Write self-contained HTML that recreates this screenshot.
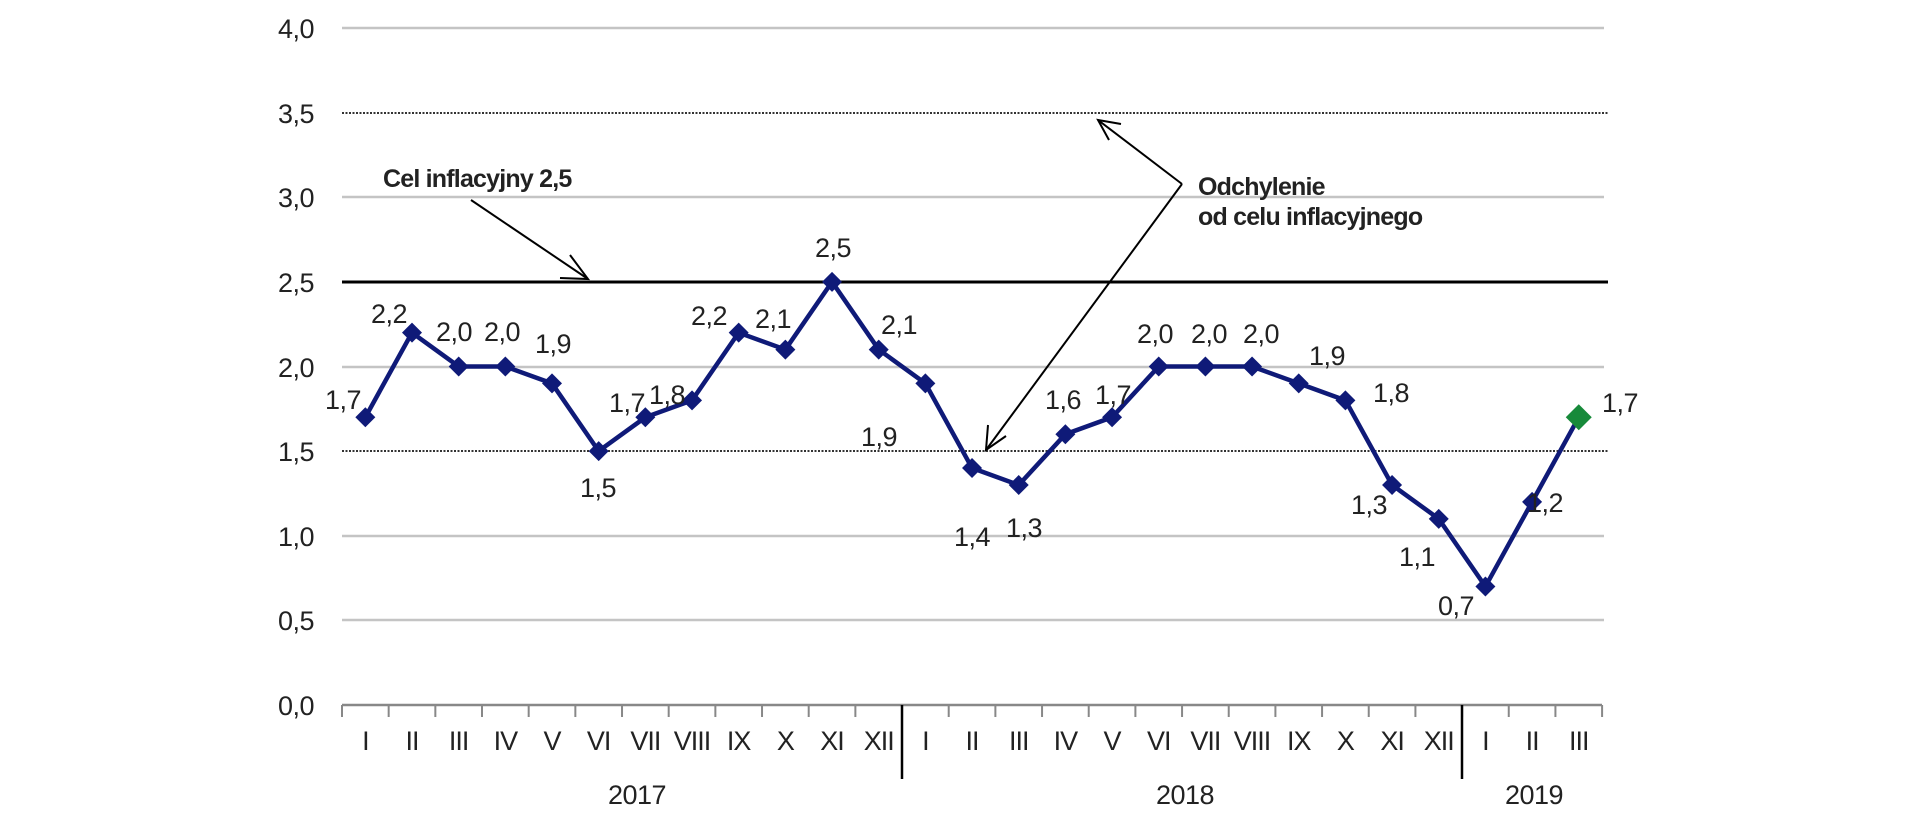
<!DOCTYPE html>
<html><head><meta charset="utf-8"><style>
html,body{margin:0;padding:0;background:#fff;}
svg text{font-family:"Liberation Sans",sans-serif;fill:#222;}
</style></head><body>
<svg width="1920" height="810" viewBox="0 0 1920 810" xmlns="http://www.w3.org/2000/svg">
<g stroke="#c4c4c4" stroke-width="2.5">
<line x1="342" x2="1604" y1="28" y2="28"/>
<line x1="342" x2="1604" y1="197" y2="197"/>
<line x1="342" x2="1604" y1="536" y2="536"/>
<line x1="342" x2="1604" y1="620" y2="620"/>
<line x1="342" x2="1604" y1="367" y2="367"/>
</g>
<g stroke="#333" stroke-width="2" stroke-dasharray="2,1.5">
<line x1="342" x2="1608" y1="113" y2="113"/>
<line x1="342" x2="1608" y1="451" y2="451"/>
</g>
<line x1="342" x2="1608" y1="282" y2="282" stroke="#000" stroke-width="3"/>
<line x1="342" x2="1602" y1="705" y2="705" stroke="#888" stroke-width="2.5"/>
<g stroke="#888" stroke-width="2" id="ticks"></g>
<line x1="902" x2="902" y1="705" y2="779" stroke="#000" stroke-width="2.5"/>
<line x1="1462" x2="1462" y1="705" y2="779" stroke="#000" stroke-width="2.5"/>
<g font-size="27" text-anchor="end" letter-spacing="-0.5">
<text x="314" y="38">4,0</text><text x="314" y="123">3,5</text><text x="314" y="207">3,0</text>
<text x="314" y="292">2,5</text><text x="314" y="377">2,0</text><text x="314" y="461">1,5</text>
<text x="314" y="546">1,0</text><text x="314" y="630">0,5</text><text x="314" y="715">0,0</text>
</g>
<g font-size="27" text-anchor="middle" letter-spacing="-1" id="cats"></g>
<g font-size="27" text-anchor="middle" letter-spacing="-0.5">
<text x="637" y="804">2017</text><text x="1185" y="804">2018</text><text x="1534" y="804">2019</text>
</g>
<g font-size="25" font-weight="bold" letter-spacing="-0.8">
<text x="383" y="187">Cel inflacyjny 2,5</text>
<text x="1198" y="195">Odchylenie</text>
<text x="1198" y="225">od celu inflacyjnego</text>
</g>
<g stroke="#000" stroke-width="2" fill="none">
<line x1="471" y1="200" x2="588" y2="279"/>
<polyline points="570,255 588,279 560,278"/>
<line x1="1182" y1="184" x2="1098" y2="120"/>
<polyline points="1109,140 1098,120 1121,124"/>
<line x1="1182" y1="184" x2="986" y2="450"/>
<polyline points="988,425 986,450 1006,436"/>
</g>
<polyline id="ln" fill="none" stroke="#0f1a78" stroke-width="4.5"/>
<g id="mk"></g>
<g font-size="27" text-anchor="middle" letter-spacing="-0.5" id="lbl"></g>
</svg>
<script>
var ns="http://www.w3.org/2000/svg";
var d=[1.7,2.2,2.0,2.0,1.9,1.5,1.7,1.8,2.2,2.1,2.5,2.1,1.9,1.4,1.3,1.6,1.7,2.0,2.0,2.0,1.9,1.8,1.3,1.1,0.7,1.2,1.7];
var lp=[[343,399],[389,313],[454,331],[502,331],[553,343],[598,487],[627,402],[667,394],[709,315],[773,318],[833,247],[899,324],[879,436],[972,536],[1024,527],[1063,399],[1113,394],[1155,333],[1209,333],[1261,333],[1327,355],[1391,392],[1369,504],[1417,556],[1456,605],[1545,502],[1620,402]];
var rn=["I","II","III","IV","V","VI","VII","VIII","IX","X","XI","XII"];
var pts=[],step=46.67;
function el(t,a,p,txt){var e=document.createElementNS(ns,t);for(var k in a)e.setAttribute(k,a[k]);if(txt)e.textContent=txt;document.getElementById(p).appendChild(e);}
for(var i=0;i<=27;i++){var x=342+i*step;el("line",{x1:x,x2:x,y1:705,y2:717},"ticks");}
for(var i=0;i<27;i++){
var x=342+step*(i+0.5),y=705-d[i]*169.25;pts.push(x+","+y);
el("text",{x:x,y:750},"cats",rn[i%12]);
var c=i==26?"#178a3a":"#0f1a78",r=i==26?13:10;
el("polygon",{points:(x)+","+(y-r)+" "+(x+r)+","+y+" "+x+","+(y+r)+" "+(x-r)+","+y,fill:c},"mk");
el("text",{x:lp[i][0],y:lp[i][1]+10},"lbl",d[i].toFixed(1).replace(".",","));
}
document.getElementById("ln").setAttribute("points",pts.join(" "));
</script>
</body></html>
